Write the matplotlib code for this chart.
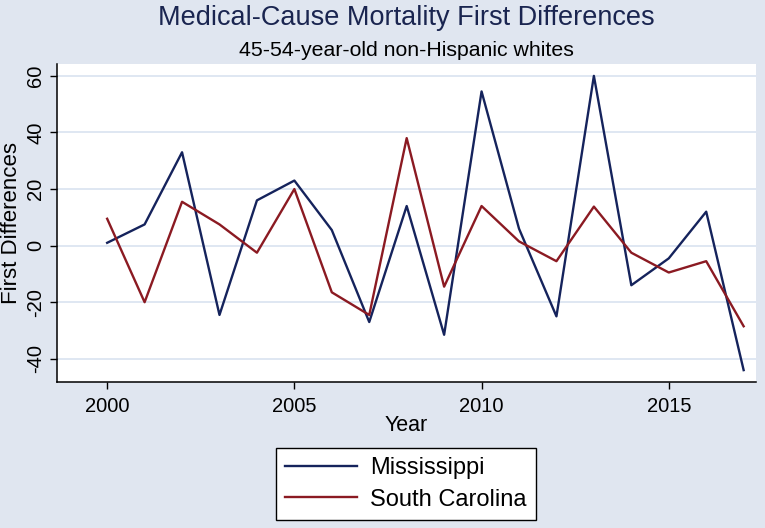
import matplotlib
matplotlib.use('Agg')
import matplotlib.pyplot as plt

years = list(range(2000, 2018))
mississippi = [1, 7.5, 33, -24.5, 16, 23, 5.5, -27, 14, -31.5, 54.5, 6, -25, 60, -14, -4.5, 12, -44]
south_carolina = [9.5, -20, 15.5, 7.5, -2.5, 20, -16.5, -24.5, 38, -14.5, 14, 1.5, -5.5, 13.8, -2.5, -9.5, -5.5, -28.5]
x_ticks = [2000, 2005, 2010, 2015]
y_ticks = [-40, -20, 0, 20, 40, 60]

bg = '#e0e6f0'
grid_col = '#d9e3f0'
navy = '#15235c'
maroon = '#8b1a22'

plt.rcParams['font.family'] = ['Liberation Sans', 'DejaVu Sans']

fig = plt.figure(figsize=(7.65, 5.28), dpi=100, facecolor=bg)
ax = fig.add_axes([57 / 765, 1 - 382 / 528, (756 - 57) / 765, (382 - 64) / 528])
ax.set_facecolor('white')

ax.plot(years, mississippi, color=navy, linewidth=1.7, label='Mississippi')
ax.plot(years, south_carolina, color=maroon, linewidth=1.7, label='South Carolina')

ax.set_xlim(1998.66, 2017.33)
ax.set_ylim(-48.2, 64.2)
ax.set_xticks(x_ticks)
ax.set_yticks(y_ticks)
ax.set_yticklabels([str(v) for v in y_ticks], rotation=90, va='center')
ax.tick_params(axis='both', direction='out', length=5, width=1, labelsize=14.5, colors='black')
ax.tick_params(axis='x', pad=6)
ax.grid(True, axis='y', color=grid_col, linewidth=1.2)
ax.set_axisbelow(True)

for side in ['top', 'right']:
    ax.spines[side].set_visible(False)
for side in ['left', 'bottom']:
    ax.spines[side].set_linewidth(1.1)

ax.set_xlabel('Year', fontsize=15.5, labelpad=-1)
ax.set_ylabel('First Differences', fontsize=16, labelpad=3)

fig.text(406 / 765, 1 - 18 / 528, 'Medical-Cause Mortality First Differences',
         ha='center', va='center', fontsize=19.5, color='#1a2550')
fig.text(406 / 765, 1 - 50 / 528, '45-54-year-old non-Hispanic whites',
         ha='center', va='center', fontsize=15.3, color='black')

leg = fig.legend(loc='center', bbox_to_anchor=(406 / 765, 1 - 484 / 528), ncol=1,
                 fontsize=17, frameon=True, fancybox=False, edgecolor='black',
                 framealpha=1, handlelength=3.05, borderpad=0.4, labelspacing=0.4,
                 handletextpad=0.55)
leg.get_frame().set_linewidth(1.0)
leg.get_frame().set_facecolor('white')

fig.savefig('out.png', dpi=100, facecolor=bg)
